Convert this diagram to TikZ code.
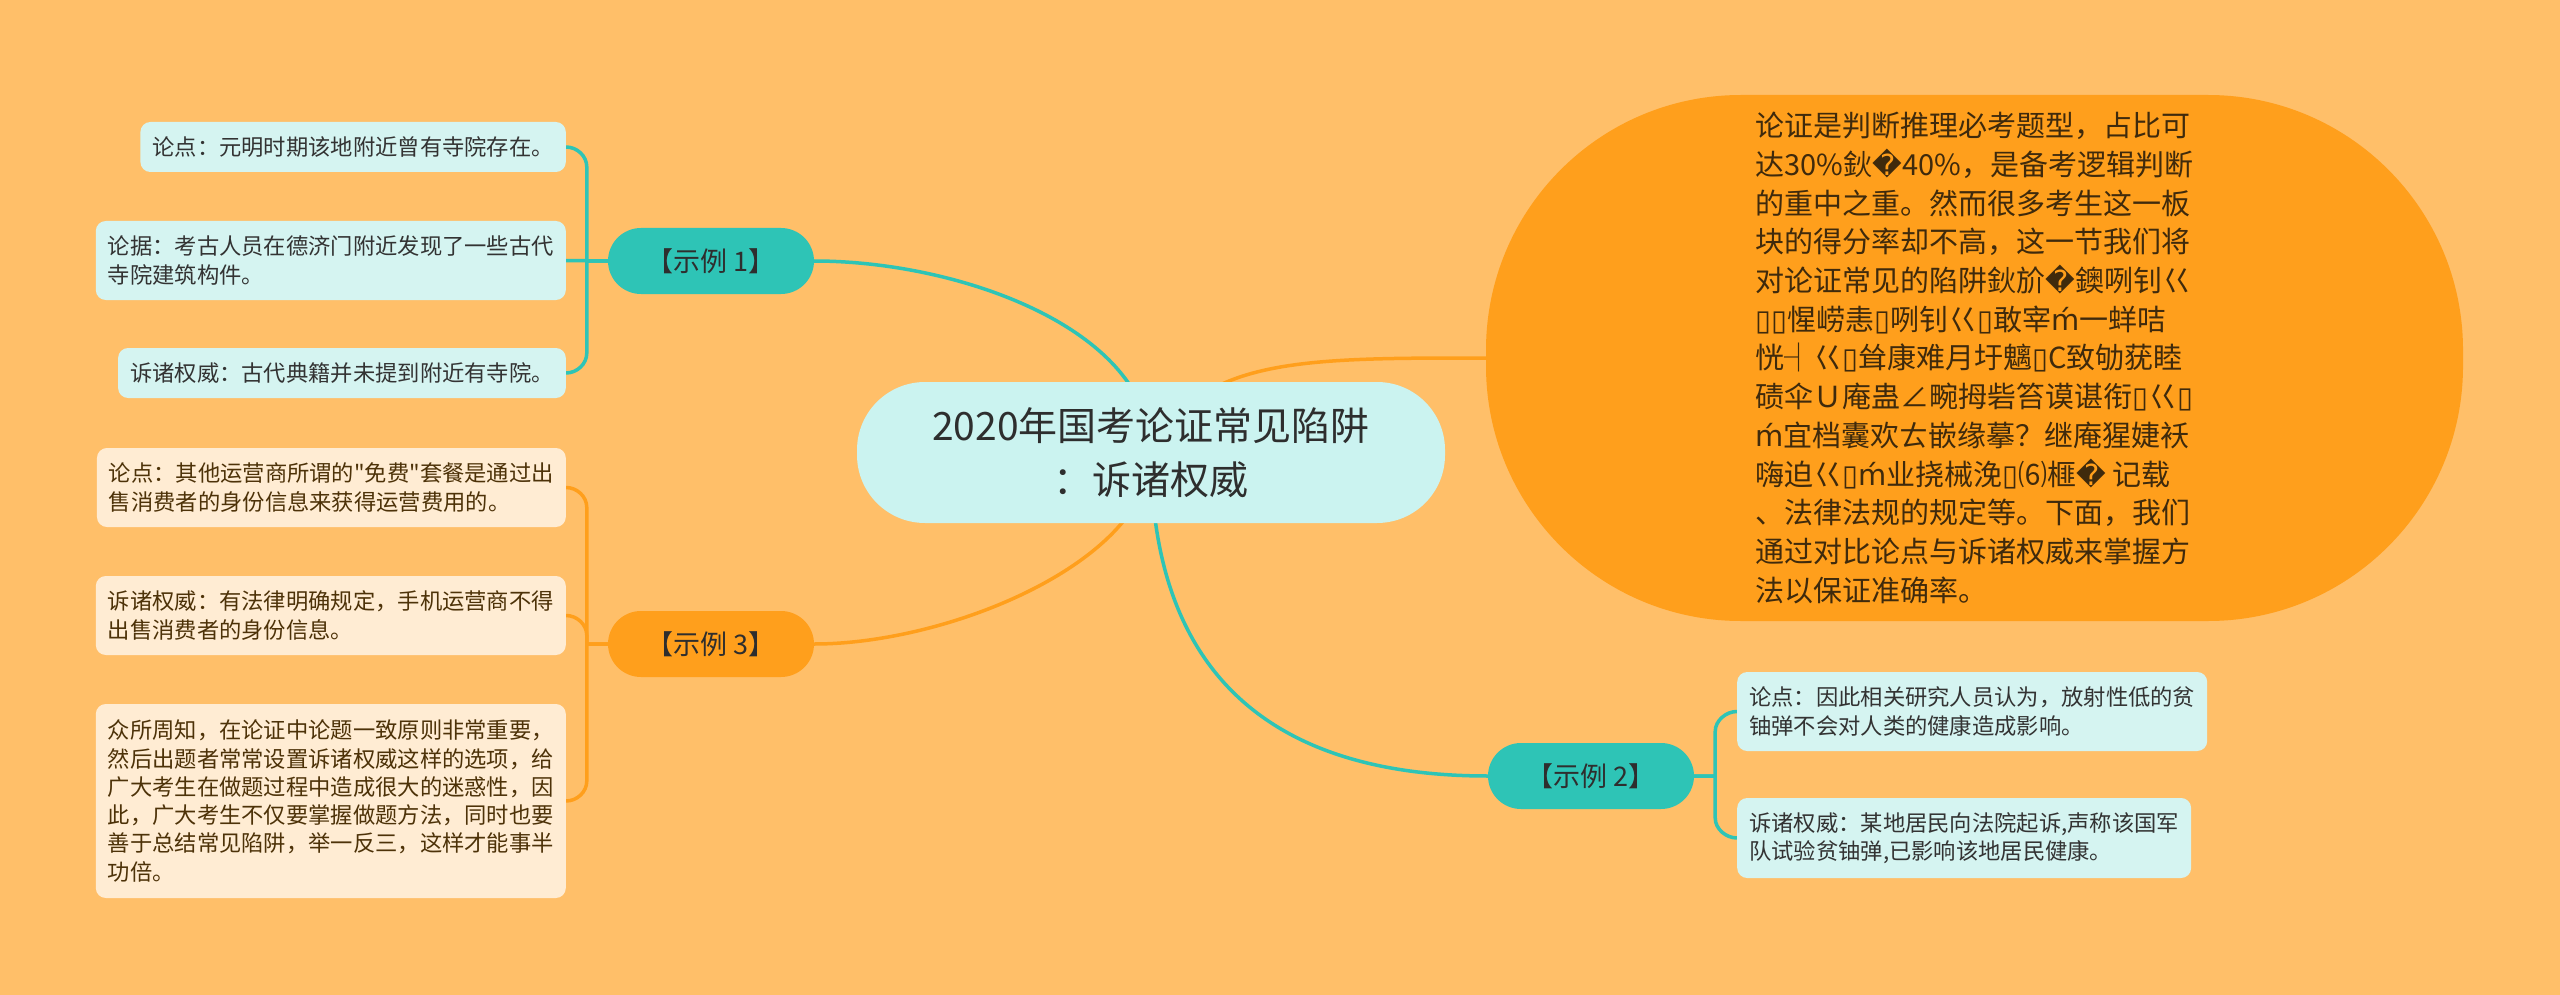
\documentclass[tikz,border=0pt]{standalone}
\usepackage{fontspec}
\setmainfont{Noto Sans CJK SC}
\newfontfamily\dv{DejaVu Sans}
\newfontfamily\nq{Noto Sans CJK SC}[Ligatures=TeXOff]
\usetikzlibrary{calc}
\definecolor{bgc}{HTML}{FFBF69}
\definecolor{bigc}{HTML}{FF9F1C}
\definecolor{centerc}{HTML}{CBF3F0}
\definecolor{tealc}{HTML}{2EC4B6}
\definecolor{orgc}{HTML}{FF9F1C}
\definecolor{leaftc}{HTML}{D5F4F1}
\definecolor{leafoc}{HTML}{FFECD3}
\definecolor{titlec}{HTML}{2E2E2E}
\definecolor{txtt}{HTML}{333333}
\definecolor{txto}{HTML}{4D3208}
\definecolor{txtbig}{HTML}{3F2A0C}
\pgfdeclarelayer{bgfill}
\pgfdeclarelayer{bg}
\pgfsetlayers{bgfill,bg,main}
\begin{document}
\begin{tikzpicture}[x=1pt,y=-1pt,
  leafT/.style={fill=leaftc, rounded corners=10, inner xsep=12, inner ysep=0, align=left, text=txtt, font=\fontsize{22.3}{28.3}\selectfont},
  leafO/.style={fill=leafoc, rounded corners=10, inner xsep=12, inner ysep=0, align=left, text=txto, font=\fontsize{22.3}{28.3}\selectfont},
  cnode/.style={fill=centerc, rounded corners=68, minimum width=588, minimum height=141, inner sep=0, align=center, text=titlec, font=\fontsize{39}{54}\selectfont},
  lblbox/.style={rounded corners=33, minimum width=206, minimum height=66, inner sep=0, text=titlec, font=\fontsize{27}{32}\selectfont},
  bigbox/.style={fill=bigc, rounded corners=255, minimum width=977, minimum height=526, inner sep=0, align=left, text=txtbig, font=\fontsize{29}{38.7}\selectfont},
  tline/.style={draw=tealc, line width=3.5},
  oline/.style={draw=orgc, line width=3.5}]
\begin{pgfonlayer}{bgfill}
\fill[bgc] (0,0) rectangle (2560,995);
\end{pgfonlayer}
\useasboundingbox (0,0) rectangle (2560,995);

% central
\node[cnode] (c) at (1151,452.5) {2020年国考论证常见陷阱\\：诉诸权威};

% big intro shape
\node[bigbox] (intro) at (1974.5,358) {论证是判断推理必考题型，占比可\\
达30\%鈥{\dv �}40\%，是备考逻辑判断\\
的重中之重。然而很多考生这一板\\
块的得分率却不高，这一节我们将\\
对论证常见的陷阱鈥斺{\dv �}鐭咧钊巜\\
{\dv ▯▯}惺崂恚{\dv ▯}咧钊巜{\dv ▯}敢宰{\dv ḿ}一蛘咭\\
恍┤巜{\dv ▯}耸康难月圩魑{\dv ▯}C致劬莸睦\\
碛伞Ｕ庵蛊∠畹拇砦笞谟谌衔{\dv ▯}巜{\dv ▯}\\
{\dv ḿ}宜档囊欢ㄊ嵌缘摹？继庵猩婕袄\\
嗨迫巜{\dv ▯ḿ}业挠械浼{\dv ▯}⑹榧{\dv �} 记载\\
、法律法规的规定等。下面，我们\\
通过对比论点与诉诸权威来掌握方\\
法以保证准确率。};

% labels
\node[lblbox, fill=tealc] (s1) at (711,261) {【示例 1】};
\node[lblbox, fill=orgc] (s3) at (711,644) {【示例 3】};
\node[lblbox, fill=tealc] (s2) at (1591,776) {【示例 2】};

% leaves of 示例1
\node[leafT, anchor=east, minimum height=50] (l1) at (566,147) {论点：元明时期该地附近曾有寺院存在。};
\node[leafT, anchor=east, minimum height=79] (l2) at (566,260.5) {论据：考古人员在德济门附近发现了一些古代\\寺院建筑构件。};
\node[leafT, anchor=east, minimum height=50] (l3) at (566,373) {诉诸权威：古代典籍并未提到附近有寺院。};

% leaves of 示例3
\node[leafO, anchor=east, minimum height=79] (l4) at (566,487.5) {论点：其他运营商所谓的{\nq"}免费{\nq"}套餐是通过出\\售消费者的身份信息来获得运营费用的。};
\node[leafO, anchor=east, minimum height=79] (l5) at (566,615.5) {诉诸权威：有法律明确规定，手机运营商不得\\出售消费者的身份信息。};
\node[leafO, anchor=east, minimum height=194] (l6) at (566,801) {众所周知，在论证中论题一致原则非常重要，\\然后出题者常常设置诉诸权威这样的选项，给\\广大考生在做题过程中造成很大的迷惑性，因\\此，广大考生不仅要掌握做题方法，同时也要\\善于总结常见陷阱，举一反三，这样才能事半\\功倍。};

% leaves of 示例2
\node[leafT, anchor=west, minimum height=79] (r1) at (1737,711.5) {论点：因此相关研究人员认为，放射性低的贫\\铀弹不会对人类的健康造成影响。};
\node[leafT, anchor=west, minimum height=80] (r2) at (1737,838) {诉诸权威：某地居民向法院起诉,声称该国军\\队试验贫铀弹,已影响该地居民健康。};

\coordinate (j1) at ($(s1.west)+(-21,0)$);
\coordinate (j3) at ($(s3.west)+(-21,0)$);
\coordinate (j2) at ($(s2.east)+(21,0)$);

\begin{pgfonlayer}{bg}
% main branches
\draw[tline] (c.center) .. controls +(0,-123) and +(146,0) .. (s1.east);
\draw[tline] (c.center) .. controls +(0,198) and +(-240,0) .. (s2.west);
\draw[oline] (c.center) .. controls +(0,108) and +(136,0) .. (s3.east);
\draw[oline] (c.center) .. controls +(49,-95) and +(-186,0) .. (intro.west);

% 示例1 bracket
\draw[tline] (s1.west) -- (j1) -- ($(j1 |- l1.east)+(0,20)$) .. controls +(0,-11) and +(11,0) .. (l1.east);
\draw[tline] (s1.west) -- (l2.east);
\draw[tline] (s1.west) -- (j1) -- ($(j1 |- l3.east)+(0,-20)$) .. controls +(0,11) and +(11,0) .. (l3.east);

% 示例3 bracket
\draw[oline] (s3.west) -- (j3) -- ($(j3 |- l4.east)+(0,20)$) .. controls +(0,-11) and +(11,0) .. (l4.east);
\draw[oline] (s3.west) -- (j3) -- ($(j3 |- l5.east)+(0,20)$) .. controls +(0,-11) and +(11,0) .. (l5.east);
\draw[oline] (s3.west) -- (j3) -- ($(j3 |- l6.east)+(0,-20)$) .. controls +(0,11) and +(11,0) .. (l6.east);

% 示例2 bracket
\draw[tline] (s2.east) -- (j2) -- ($(j2 |- r1.west)+(0,20)$) .. controls +(0,-11) and +(-11,0) .. (r1.west);
\draw[tline] (s2.east) -- (j2) -- ($(j2 |- r2.west)+(0,-20)$) .. controls +(0,11) and +(-11,0) .. (r2.west);
\end{pgfonlayer}
\end{tikzpicture}
\end{document}
